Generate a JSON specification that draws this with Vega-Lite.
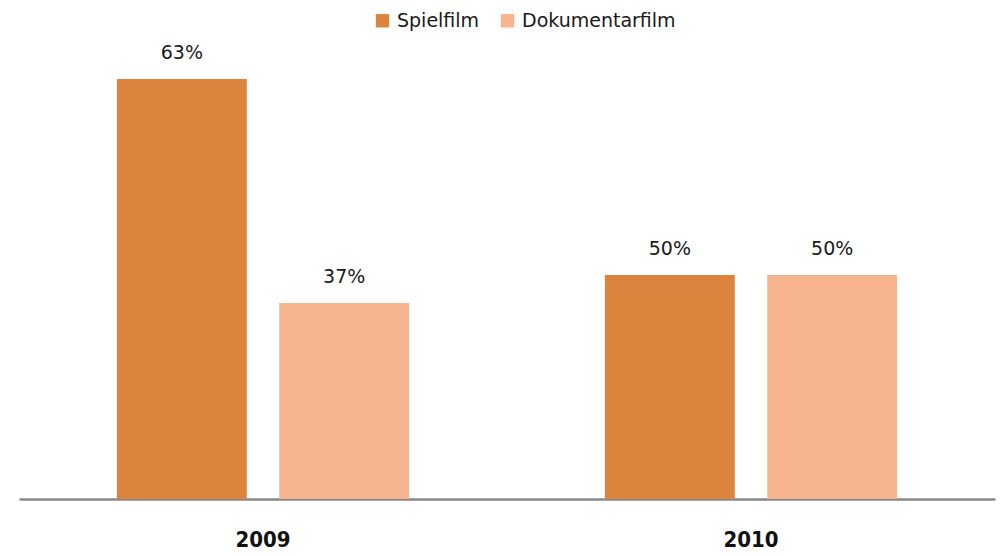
{
  "$schema": "https://vega.github.io/schema/vega-lite/v6.json",
  "autosize": "none",
  "width": 976,
  "height": 448,
  "padding": {"left": 19, "top": 51, "right": 5, "bottom": 57},
  "config": {"view": {"stroke": null}, "font": "DejaVu Sans"},
  "data": {
    "values": [
      {"jahr": "2009", "art": "Spielfilm", "anzahl": 15, "anteil": "63%"},
      {"jahr": "2009", "art": "Dokumentarfilm", "anzahl": 7, "anteil": "37%"},
      {"jahr": "2010", "art": "Spielfilm", "anzahl": 8, "anteil": "50%"},
      {"jahr": "2010", "art": "Dokumentarfilm", "anzahl": 8, "anteil": "50%"}
    ]
  },
  "encoding": {
    "x": {
      "field": "jahr", "type": "nominal",
      "scale": {"paddingInner": 0, "paddingOuter": 0},
      "axis": {
        "title": null, "labelAngle": 0, "ticks": false,
        "domainColor": "#888888", "domainWidth": 2.5,
        "labelFont": "DejaVu Sans Condensed", "labelFontWeight": "bold",
        "labelFontSize": 22, "labelColor": "#111111", "labelPadding": 30
      }
    },
    "xOffset": {
      "field": "art", "type": "nominal", "sort": ["Spielfilm", "Dokumentarfilm"],
      "scale": {"paddingInner": 0.2, "paddingOuter": 0.603}
    },
    "y": {
      "field": "anzahl", "type": "quantitative",
      "scale": {"domain": [0, 16]},
      "axis": null
    }
  },
  "layer": [
    {
      "mark": {"type": "bar"},
      "encoding": {
        "color": {
          "field": "art", "type": "nominal",
          "sort": ["Spielfilm", "Dokumentarfilm"],
          "scale": {"domain": ["Spielfilm", "Dokumentarfilm"], "range": ["#DB843D", "#F8B48F"]},
          "legend": {
            "title": null, "orient": "none", "direction": "horizontal",
            "legendX": 354, "legendY": -40, "padding": 0,
            "symbolType": "square", "symbolSize": 180, "symbolStrokeWidth": 0,
            "labelFont": "DejaVu Sans", "labelFontSize": 19, "labelColor": "#1a1a1a",
            "labelOffset": 5, "columnPadding": 18
          }
        }
      }
    },
    {
      "mark": {"type": "text", "dy": -20, "baseline": "alphabetic", "fontSize": 19, "font": "DejaVu Sans", "color": "#1a1a1a"},
      "encoding": {"text": {"field": "anteil"}}
    }
  ]
}
